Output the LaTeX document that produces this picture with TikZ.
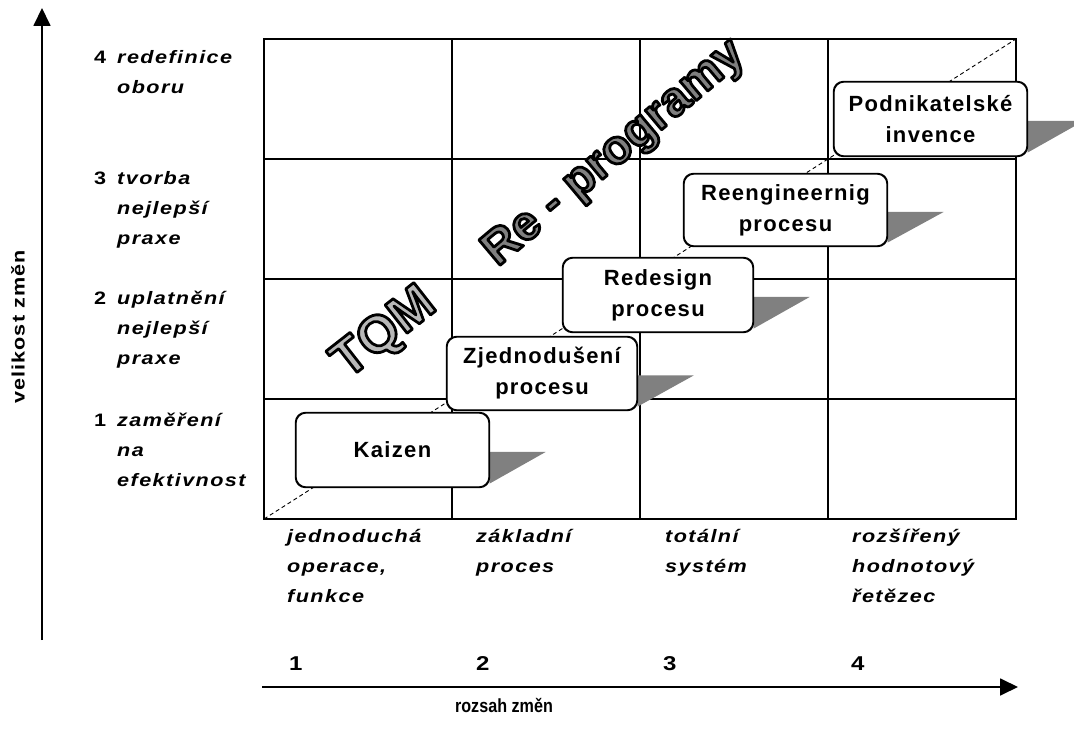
\documentclass[tikz,border=0pt]{standalone}
\usepackage{fontspec}
\setmainfont{Liberation Sans}
\newfontfamily\boxfont[LetterSpace=6]{Liberation Sans}
\newfontfamily\labelfont[LetterSpace=8,FakeStretch=1.2]{Liberation Sans}
\newfontfamily\vaxisfont[LetterSpace=6,FakeStretch=1.2]{Liberation Sans}
\newfontfamily\haxisfont[FakeStretch=0.85]{Liberation Sans}
\usetikzlibrary{arrows.meta}
\definecolor{tqmgray}{gray}{0.72}
\definecolor{rpgray}{gray}{0.5}
\definecolor{shadowgray}{gray}{0.5}
% left-aligned stack of lines whose baseline is the first line's
\newcommand{\lblstack}[1]{\begin{tabular}[t]{@{}l@{}}#1\end{tabular}}
% filled letters with a black outline (text rendering mode 2)
\newcommand{\outlinedtext}[3]{{\color{#1}\special{pdf:literal direct 2 Tr #2 w 0 G 1 j}#3\special{pdf:literal direct 0 Tr}}}

\begin{document}
\begin{tikzpicture}[x=1pt,y=1pt,
  gridline/.style={line width=1.3pt},
  frameline/.style={line width=2.4pt},
  axisline/.style={line width=1.8pt,-{Triangle[width=17pt,length=18pt]}},
  diag/.style={line width=0.9pt,dash pattern=on 4pt off 3pt},
  stage/.style={draw,line width=1.2pt,fill=white,rounded corners=10pt,
    minimum height=74pt,align=center,inner sep=0pt,
    font=\boxfont\bfseries\fontsize{22}{31}\selectfont},
  shade/.style={fill=shadowgray},
  itlabel/.style={anchor=base west,inner sep=0pt,
    font=\labelfont\bfseries\itshape\fontsize{18}{30}\selectfont},
  numlabel/.style={anchor=base west,inner sep=0pt,
    font=\labelfont\bfseries\fontsize{18}{30}\selectfont},
  bignum/.style={anchor=base west,inner sep=0pt,
    font=\labelfont\bfseries\fontsize{20}{30}\selectfont},
  bigword/.style={inner sep=0pt,font=\bfseries\fontsize{#1}{#1}\selectfont},
]
\useasboundingbox (0,0) rectangle (1074,729);

% grid of the matrix
\foreach \x in {452,828} \draw[gridline] (\x,210) -- (\x,690);
\foreach \y in {330,450,570} \draw[gridline] (264,\y) -- (1016,\y);
\draw[frameline] (640,210) -- (640,690);
\draw[frameline] (264,210) rectangle (1016,690);

% dashed diagonal
\coordinate (d0) at (264,210);
\coordinate (d1) at (1016,690);
\draw[diag] (d0) -- (d1);

% outlined diagonal captions
\node[bigword=52,rotate=38] (tqm) at (385,395) {\outlinedtext{tqmgray}{2.8}{TQM}};
\node[bigword=48,rotate=40] (reprog) at (615,575) {\outlinedtext{rpgray}{2.8}{Re - programy}};

% stages with their shadows
\node[stage,minimum width=193pt] (kaizen) at (392.5,279) {Kaizen};
\node[stage,minimum width=190pt,minimum height=73pt] (zjed) at (542,355.5) {Zjednodušení\\procesu};
\node[stage,minimum width=190pt] (redes) at (658,434) {Redesign\\procesu};
\node[stage,minimum width=203pt,minimum height=72pt] (reeng) at (785.5,519) {Reengineernig\\procesu};
\node[stage,minimum width=193pt] (podn) at (930.5,610) {Podnikatelské\\invence};
\foreach \n in {kaizen,zjed,redes,reeng,podn}
  \fill[shade] ([yshift=-2pt]\n.east) -- ++(56,0) -- ([yshift=4pt]\n.south east) -- cycle;
\foreach \n in {kaizen,zjed,redes,reeng,podn}
  \draw[line width=1.2pt,rounded corners=10pt] (\n.south west) rectangle (\n.north east);

% vertical scale
\node[numlabel] (v4n) at (94,665) {4};
\node[itlabel] (v4) at (117,665) {\lblstack{redefinice\\oboru}};
\node[numlabel] (v3n) at (94,544) {3};
\node[itlabel] (v3) at (117,544) {\lblstack{tvorba\\nejlepší\\praxe}};
\node[numlabel] (v2n) at (94,424) {2};
\node[itlabel] (v2) at (117,424) {\lblstack{uplatnění\\nejlepší\\praxe}};
\node[numlabel] (v1n) at (94,302) {1};
\node[itlabel] (v1) at (117,302) {\lblstack{zaměření\\na\\efektivnost}};

% horizontal scale
\node[itlabel] (h1) at (287,186) {\lblstack{jednoduchá\\operace,\\funkce}};
\node[itlabel] (h2) at (476,186) {\lblstack{základní\\proces}};
\node[itlabel] (h3) at (665,186) {\lblstack{totální\\systém}};
\node[itlabel] (h4) at (852,186) {\lblstack{rozšířený\\hodnotový\\řetězec}};
\node[bignum] (n1) at (289,59) {1};
\node[bignum] (n2) at (476,59) {2};
\node[bignum] (n3) at (663,59) {3};
\node[bignum] (n4) at (851,59) {4};

% axes
\coordinate (vbot) at (42,89);
\coordinate (vtop) at (42,721);
\draw[axisline] (vbot) -- (vtop);
\coordinate (hleft) at (262,42);
\coordinate (hright) at (1018,42);
\draw[axisline] (hleft) -- (hright);
\node[rotate=90,inner sep=0pt,font=\vaxisfont\bfseries\fontsize{18}{18}\selectfont] (vlabel) at (18,402) {velikost změn};
\node[inner sep=0pt,font=\haxisfont\bfseries\fontsize{19}{19}\selectfont] (hlabel) at (504,24) {rozsah změn};
\end{tikzpicture}
\end{document}
